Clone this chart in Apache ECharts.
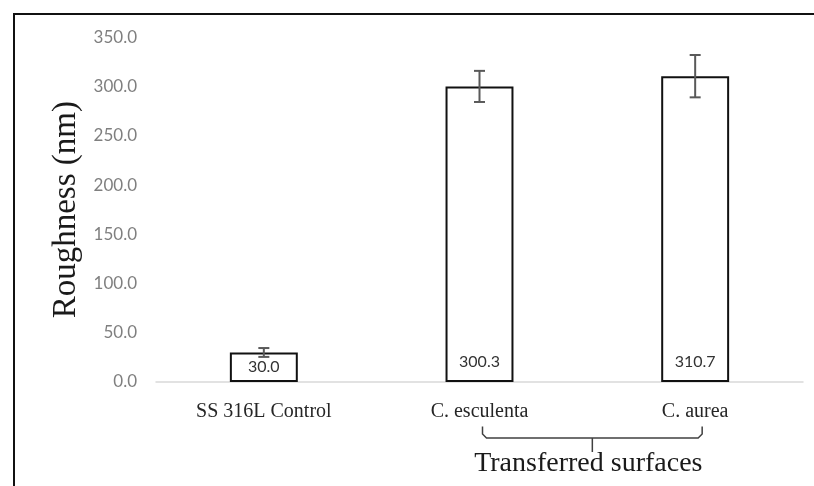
<!DOCTYPE html>
<html>
<head>
<meta charset="utf-8">
<script src="https://cdn.jsdelivr.net/npm/echarts@6/dist/echarts.min.js"></script>
<style>
  html, body { margin: 0; padding: 0; background: #fff; }
  #chart { width: 814px; height: 486px; }
</style>
</head>
<body>
<div id="chart"></div>
<script>
// Surface roughness per sample, mean and standard deviation (nm)
const categories = ['SS 316L Control', 'C. esculenta', 'C. aurea'];
const roughness = [30.0, 300.3, 310.7];
const stdDev = [4.5, 15.8, 21.5];
const yTicks = { min: 0, max: 350, step: 50 };
const groupLabel = 'Transferred surfaces';
const groupMembers = ['C. esculenta', 'C. aurea'];

const serif = '"Liberation Serif", "Times New Roman", serif';
const sans = 'Lato, "Open Sans", sans-serif';

const chart = echarts.init(document.getElementById('chart'), null, { renderer: 'canvas' });

const option = {
  animation: false,
  backgroundColor: '#ffffff',
  grid: { left: 156, right: 11, top: 37.5, bottom: 104, containLabel: false },
  xAxis: {
    type: 'category',
    data: categories,
    axisLine: { show: true, lineStyle: { color: '#d9d9d9', width: 1.5 } },
    axisTick: { show: false },
    axisLabel: { color: '#262626', fontFamily: serif, fontSize: 20, margin: 20 }
  },
  yAxis: {
    type: 'value',
    min: yTicks.min,
    max: yTicks.max,
    interval: yTicks.step,
    name: 'Roughness (nm)',
    nameLocation: 'middle',
    nameGap: 72,
    nameRotate: 90,
    nameTextStyle: { color: '#1a1a1a', fontFamily: serif, fontSize: 33 },
    axisLine: { show: false },
    axisTick: { show: false },
    splitLine: { show: false },
    axisLabel: {
      color: '#7f7f7f', fontFamily: sans, fontSize: 17, margin: 19,
      formatter: v => v.toFixed(1)
    }
  },
  series: [
    {
      type: 'bar',
      barWidth: '31.5%',
      data: roughness.map((v, i) => ({
        value: v,
        label: { distance: i === 0 ? 7 : 12 }
      })),
      itemStyle: { color: '#ffffff', borderColor: '#111111', borderWidth: 2 },
      label: {
        show: true,
        position: 'insideBottom',
        color: '#333333',
        fontFamily: sans,
        fontSize: 16,
        formatter: p => p.value.toFixed(1)
      },
      z: 2
    },
    {
      // error bars: mean ± standard deviation
      type: 'custom',
      data: roughness.map((v, i) => [i, v - stdDev[i], v + stdDev[i]]),
      renderItem: (params, api) => {
        const lo = api.coord([api.value(0), api.value(1)]);
        const hi = api.coord([api.value(0), api.value(2)]);
        const cap = 5.5;
        const style = { stroke: '#595959', lineWidth: 2 };
        return {
          type: 'group',
          children: [
            { type: 'line', shape: { x1: hi[0], y1: hi[1], x2: lo[0], y2: lo[1] }, style },
            { type: 'line', shape: { x1: hi[0] - cap, y1: hi[1], x2: hi[0] + cap, y2: hi[1] }, style },
            { type: 'line', shape: { x1: lo[0] - cap, y1: lo[1], x2: lo[0] + cap, y2: lo[1] }, style }
          ]
        };
      },
      z: 5
    }
  ]
};

chart.setOption(option);

// Bracket grouping the transferred samples, plus the outer frame lines
const xa = chart.convertToPixel({ xAxisIndex: 0 }, groupMembers[0]) + 3;
const xb = chart.convertToPixel({ xAxisIndex: 0 }, groupMembers[1]) + 7;
const xm = (xa + xb) / 2;
const yTop = 426.5, yBar = 438, yTip = 452;
const r = 4;
chart.setOption({
  graphic: [
    {
      type: 'polyline',
      shape: { points: [[xa, yTop], [xa, yBar - r], [xa + r, yBar], [xb - r, yBar], [xb, yBar - r], [xb, yTop]] },
      style: { stroke: '#404040', lineWidth: 1.5, fill: null }
    },
    {
      type: 'line',
      shape: { x1: xm, y1: yBar, x2: xm, y2: yTip },
      style: { stroke: '#404040', lineWidth: 1.5 }
    },
    {
      type: 'text',
      x: xm - 4, y: 464,
      style: {
        text: groupLabel, fill: '#1a1a1a', font: '28px ' + serif,
        textAlign: 'center', textVerticalAlign: 'middle'
      }
    },
    {
      type: 'line',
      shape: { x1: 13, y1: 14, x2: 814, y2: 14 },
      style: { stroke: '#111111', lineWidth: 2 }
    },
    {
      type: 'line',
      shape: { x1: 14, y1: 13, x2: 14, y2: 486 },
      style: { stroke: '#111111', lineWidth: 2 }
    }
  ]
});
</script>
</body>
</html>
